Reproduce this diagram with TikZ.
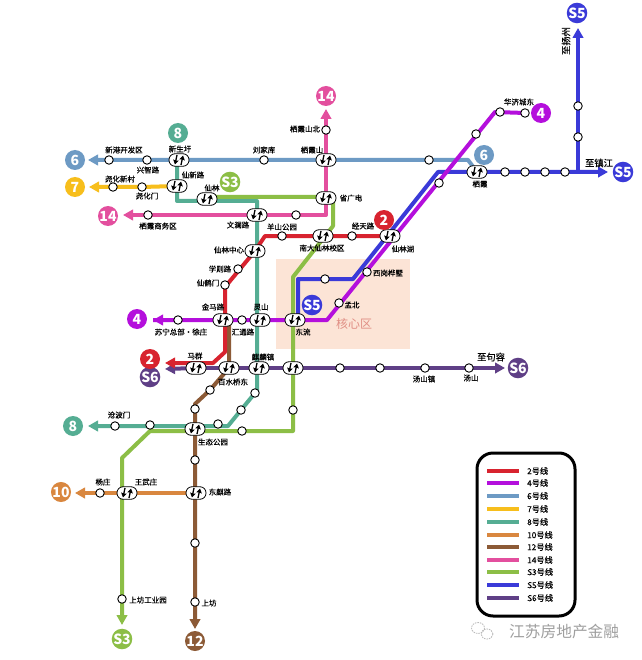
\documentclass[tikz,border=0pt]{standalone}
\usepackage{fontspec}
\setmainfont{Noto Sans CJK SC}
\newfontfamily\semifont[FakeBold=0.35]{Noto Sans CJK SC}
\usetikzlibrary{arrows.meta}
\pgfdeclarelayer{area}
\pgfdeclarelayer{lines}
\pgfsetlayers{area,lines,main}
\definecolor{cII}{HTML}{D8232F}
\definecolor{cIV}{HTML}{B40FDC}
\definecolor{cVI}{HTML}{6D9AC4}
\definecolor{cVII}{HTML}{F7BE1C}
\definecolor{cVIII}{HTML}{55AD93}
\definecolor{cX}{HTML}{D9873F}
\definecolor{cXII}{HTML}{8C5A36}
\definecolor{cXIV}{HTML}{E34F9E}
\definecolor{cSIII}{HTML}{8CBE46}
\definecolor{cSV}{HTML}{3A3AD8}
\definecolor{cSVI}{HTML}{5F3F86}
\definecolor{coreFill}{HTML}{FCE4D6}
\definecolor{coreText}{HTML}{E08E84}
\tikzset{
 x=1pt,y=-1pt,
 stn/.style={circle,draw=black,fill=white,line width=0.9pt,minimum size=8.5pt,inner sep=0pt},
 xch/.style={rectangle,rounded corners=6pt,draw=black,fill=white,line width=0.8pt,minimum width=20pt,minimum height=12.5pt,inner sep=0pt,
  path picture={
   \draw[line width=1.3pt,black,-{Stealth[length=4.5pt,width=5.5pt,inset=0.6pt]}] (path picture bounding box.center) ++(-2,-5) -- ++(-2,9.5);
   \draw[line width=1.3pt,black,-{Stealth[length=4.5pt,width=5.5pt,inset=0.6pt]}] (path picture bounding box.center) ++(2,5) -- ++(2,-9.5);
  }},
 lab/.style={font=\semifont\fontsize{7.5pt}{8pt}\selectfont,inner sep=0pt,text=black},
 labbig/.style={font=\semifont\fontsize{9.3pt}{10pt}\selectfont,inner sep=0pt,text=black},
 badge/.style={circle,fill=#1,minimum size=20pt,inner sep=0pt,text=white,font=\bfseries\fontsize{14pt}{15pt}\selectfont},
 ln/.style={line width=4pt,color=#1,line join=round},
 ar/.style={ln=#1,-{Triangle[length=10pt,width=10.5pt]}},
 key/.style={line width=3.4pt,color=#1},
 keytxt/.style={font=\semifont\fontsize{8.2pt}{9pt}\selectfont,inner sep=0pt,anchor=west},
}
\begin{document}
\begin{tikzpicture}
\begin{pgfonlayer}{area}
\fill[white] (0,0) rectangle (641,660);
\fill[coreFill] (276,259) rectangle (410,349);
\end{pgfonlayer}
\useasboundingbox (0,0) rectangle (641,660);

% free ends and bends
\coordinate (t6) at (88,160);
\coordinate (b6a) at (468,160);
\coordinate (t7) at (89,187);
\coordinate (b8a) at (177,201);
\coordinate (b8b) at (257,201);
\coordinate (b8c) at (257,392);
\coordinate (b8d) at (228,426);
\coordinate (t8) at (88,426);
\coordinate (t14a) at (326,109);
\coordinate (b14) at (326,215);
\coordinate (t14b) at (123,215);
\coordinate (bS3a) at (333,197);
\coordinate (bS3b) at (333,226);
\coordinate (bS3c) at (293,277);
\coordinate (bS3d) at (293,431);
\coordinate (bS3e) at (150,431);
\coordinate (bS3f) at (122,458);
\coordinate (tS3) at (122,625);
\coordinate (t10) at (75,493);
\coordinate (top12) at (229,320);
\coordinate (b12a) at (229,368);
\coordinate (b12b) at (195,404);
\coordinate (t12) at (195,629);
\coordinate (b2a) at (265,236);
\coordinate (b2b) at (225,287);
\coordinate (b2c) at (225,352);
\coordinate (b2d) at (213,363);
\coordinate (t2) at (165,363);
\coordinate (t4) at (153,320);
\coordinate (b4a) at (327,320);
\coordinate (b4b) at (495,112);
\coordinate (sS5) at (298,316);
\coordinate (bS5a) at (298,279);
\coordinate (bS5b) at (353,279);
\coordinate (bS5c) at (438,172);
\coordinate (bS5d) at (578,172);
\coordinate (tS5a) at (578,28);
\coordinate (tS5b) at (608,172);
\coordinate (tS6a) at (165,369);
\coordinate (tS6b) at (505,368);

% interchanges
\node[xch] (xXinshengwei) at (179,160) {};
\node[xch] (xQixiashan) at (326,160) {};
\node[xch] (xQixia) at (477,172) {};
\node[xch] (xXianxin) at (177,186) {};
\node[xch] (xXianlin) at (207,199) {};
\node[xch] (xShengguangdian) at (326,198) {};
\node[xch] (xWenlan) at (257,215) {};
\node[xch] (xNanda) at (323,236) {};
\node[xch] (xXianlinhu) at (390,236) {};
\node[xch] (xXianlinzx) at (255,251) {};
\node[xch] (xJinma) at (223,320) {};
\node[xch] (xLingshan) at (260,320) {};
\node[xch] (xDongliu) at (295,320) {};
\node[xch] (xMaqun) at (196,368) {};
\node[xch] (xBaishui) at (229,368) {};
\node[xch] (xQilin) at (259,368) {};
\node[xch] (xS3S6) at (293,368) {};
\node[xch] (xShengtai) at (195,429) {};
\node[xch] (xWangwu) at (127,493) {};
\node[xch] (xDongqi) at (196,493) {};

% stations
\foreach \n/\x/\y in {
 s1/109/160,s2/147/160,s3/264/160,s4/429/160,
 s5/113/187,s6/142/187,
 s7/326/130,s8/296/215,s9/148/215,
 s10/352/236,s11/282/236,s12/238/269,s13/225/285,
 s14/178/320,s15/242/320,s16/339/303,s17/367/272,s18/439/183,s19/476/134,s20/500/112,s21/525/113,
 s22/325/279,s23/505/172,s24/525/172,s25/545/172,s26/565/172,s27/578/137,s28/578/106,
 s29/340/368,s30/380/368,s31/425/368,s32/469/368,
 s33/255/393,s34/241/410,s35/218/424,s36/150/425,s37/115/426,
 s38/293/410,s39/242/431,s40/122/599,s41/100/493,
 s42/210/390,s43/195/409,s44/195/460,s45/195/543,s46/195/602}
 {\node[stn] (\n) at (\x,\y) {};}

% badges
\node[badge=cVI] (b6l) at (75,160) {6};
\node[badge=cVI] (b6r) at (484,155) {6};
\node[badge=cVII] (b7) at (75,187) {7};
\node[badge=cVIII] (b8t) at (178,133) {8};
\node[badge=cVIII] (b8l) at (73,426) {8};
\node[badge=cXIV] (b14t) at (326,96) {14};
\node[badge=cXIV] (b14l) at (108,216) {14};
\node[badge=cSIII] (bS3t) at (230,182) {S3};
\node[badge=cSIII] (bS3b2) at (122,639) {S3};
\node[badge=cX] (b10) at (61,492) {10};
\node[badge=cXII] (b12) at (195,641) {12};
\node[badge=cII] (b2t) at (384,220) {2};
\node[badge=cSVI] (bS6l) at (150,377) {S6};
\node[badge=cII] (b2l) at (150,359) {2};
\node[badge=cSVI] (bS6r) at (518,368) {S6};
\node[badge=cIV] (b4l) at (137,319) {4};
\node[badge=cIV] (b4r) at (541,113) {4};
\node[badge=cSV] (bS5t) at (577,13) {S5};
\node[badge=cSV] (bS5r) at (623,172) {S5};
\node[badge=cSV] (bS5c2) at (312,305) {S5};

% lines
\begin{pgfonlayer}{lines}
\draw[ar=cVI] (xQixia.center) -- (b6a) -- (xQixiashan.center) -- (s3.center) -- (xXinshengwei.center) -- (s2.center) -- (s1.center) -- (t6);
\draw[ar=cVII] (xXianxin.center) -- (s6.center |- t7) -- (t7);
\draw[ar=cVIII] (xXianxin.center |- xXinshengwei.center) -- (xXianxin.center) -- (b8a) -- (b8b) -- (b8c) -- (s33.center) -- (s34.center) -- (b8d) -- (t8);
\draw[ar=cXIV] (xShengguangdian.center) -- (xQixiashan.center) -- (s7.center) -- (t14a);
\draw[ar=cXIV] (xShengguangdian.center) -- (b14) -- (s8.center) -- (xWenlan.center) -- (s9.center) -- (t14b);
\draw[ar=cXII] (top12) -- (b12a) -- (s42.center) -- (b12b) -- (t12);
\draw[ar=cSIII] (xXianlin.center |- bS3a) -- (bS3a) -- (bS3b) -- (bS3c) -- (bS3d) -- (bS3e) -- (bS3f) -- (tS3);
\draw[ar=cX] (xDongqi.center) -- (xWangwu.center) -- (s41.center) -- (t10);
\draw[ar=cSVI] (xMaqun.center) -- (tS6a);
\draw[ar=cSVI] (xMaqun.center) -- (tS6b);
\draw[ar=cSV] (sS5) -- (bS5a) -- (bS5b) -- (bS5c) -- (bS5d) -- (tS5b);
\draw[ar=cSV] (bS5d) -- (tS5a);
\draw[ar=cII] (xXianlinhu.center) -- (b2a) -- (xXianlinzx.center) -- (b2b) -- (b2c) -- (b2d) -- (t2);
\draw[ln=cIV] (t4) -- (b4a) -- (b4b) -- (s21.center);
\draw[ar=cIV] (b4a) -- (t4);
\end{pgfonlayer}

% labels
\foreach \n/\x/\y/\t in {
 l1/124/150/新港开发区,l2/148/170/兴智路,l3/180/149/新生圩,l4/193/175/仙新路,l5/264/150/刘家库,
 l6/312/150/栖霞山,l7/305/129/栖霞山北,l8/120/179/尧化新村,l9/147/196/尧化门,l10/212/188/仙林,
 l11/351/198/省广电,l12/158/226/栖霞商务区,l13/238/225/文澜路,l14/282/227/羊山公园,l15/229/250/仙林中心,
 l16/322/248/南大仙林校区,l17/220/269/学则路,l18/208/283/仙鹤门,l19/213/307/金马路,l20/261/307/灵山,
 l21/243/332/汇通路,l22/303/332/东流,l23/181/332/苏宁总部·徐庄,l24/195/356/马群,l25/263/357/麒麟镇,
 l26/233/382/百水桥东,l27/363/226/经天路,l28/403/249/仙林湖,l29/388/273/西岗桦墅,l30/352/305/孟北,
 l31/519/102/华济城东,l32/480/184/栖霞,l34/119/415/沧波门,l35/213/442/生态公园,
 l36/103/482/杨庄,l37/146/482/王武庄,l38/220/492/东麒路,l39/148/600/上坊工业园,l40/209/603/上坊,
 l41/424/379/汤山镇,l42/471/378/汤山}
 {\node[lab] (\n) at (\x,\y) {\t};}
\node[labbig] (l33) at (599,163) {至镇江};
\node[labbig] (l43) at (491,357) {至句容};
\node[labbig,rotate=90] (l44) at (566,41) {至扬州};
\node[font=\fontsize{12pt}{13pt}\selectfont,text=coreText,inner sep=0pt] (core) at (354,324) {核心区};

% legend
\node[draw=black,line width=3pt,rounded corners=16pt,minimum width=98pt,minimum height=163pt,inner sep=0pt] (legend) at (526,534.5) {};
\foreach \i/\y/\c/\t in {a/471/cII/2号线,b/483/cIV/4号线,c/496/cVI/6号线,d/509/cVII/7号线,e/522/cVIII/8号线,f/535/cX/10号线,g/547/cXII/12号线,h/560/cXIV/14号线,i/572/cSIII/S3号线,j/585/cSV/S5号线,k/598/cSVI/S6号线}{
 \coordinate (k\i a) at (487,\y);
 \coordinate (k\i b) at (519,\y);
 \draw[key=\c] (k\i a) -- (k\i b);
 \node[keytxt] (k\i t) at (527,\y) {\t};
}

% watermark
\draw[gray!55,dash pattern=on 1.5pt off 1pt,line width=0.8pt] (478,628) ellipse (6.5 and 5.5);
\draw[gray!55,dash pattern=on 1.5pt off 1pt,line width=0.8pt] (487,634) ellipse (6 and 5);
\node[font=\fontsize{15.7pt}{16pt}\selectfont,text=gray!75,inner sep=0pt,anchor=west] (mark) at (509,632) {江苏房地产金融};
\end{tikzpicture}
\end{document}
